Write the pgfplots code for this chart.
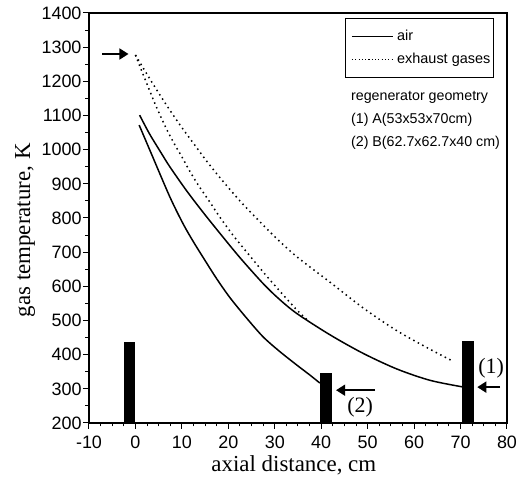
\documentclass[border=0pt]{standalone}
\usepackage{pgfplots}
\pgfplotsset{compat=1.18}
\usepackage{fontspec}
\setmainfont{Liberation Serif}
\newfontfamily\arial{Liberation Sans}
\usetikzlibrary{arrows.meta}

\pgfplotstableread{
x y
0 1277
2.7 1216
4.9 1168
7.0 1124
9.2 1080
11.0 1046
13.5 1000
15.3 967
18.2 918
22.5 850
26.8 789
30.4 740
34.8 686
41.9 612
49.0 537
56.3 470
63.4 416
68.2 382
}\exhaustA

\pgfplotstableread{
x y
0 1277
1.3 1232
2.7 1185
4.1 1138
5.6 1092
7.0 1052
8.5 1014
10.0 979
11.7 937
13.5 897
16.1 845
18.2 802
21.1 748
24.7 688
27.5 642
30.5 595
34.8 530
37.0 502
}\exhaustB

\pgfplotstableread{
x y
0.9 1101
3.0 1047
5.6 989
7.4 950
11.0 880
14.6 816
18.2 755
22.5 684
27.5 608
31.0 562
34.8 520
41.9 458
49.0 404
56.3 358
63.4 325
70.3 306
}\airA

\pgfplotstableread{
x y
0.8 1072
3.4 989
7.4 862
10.3 782
12.5 730
14.6 684
17.5 622
20.4 566
24.0 506
27.5 452
31.0 410
34.8 369
37.5 341
39.7 317
}\airB

\begin{document}
\begin{tikzpicture}
\useasboundingbox (-89bp,-59bp) rectangle (433bp,423bp);
\begin{axis}[
  at={(0,0)}, anchor=south west,
  scale only axis, width=418bp, height=410bp,
  xmin=-10, xmax=80, ymin=200, ymax=1400,
  axis line style={line width=1.1bp},
  tick pos=left, tick align=outside,
  xtick={-10,0,10,20,30,40,50,60,70,80},
  xticklabels={-10,0,10,20,30,40,50,60,70,80},
  ytick={200,300,400,500,600,700,800,900,1000,1100,1200,1300,1400},
  yticklabels={200,300,400,500,600,700,800,900,1000,1100,1200,1300,1400},
  minor x tick num=3, minor y tick num=1,
  major tick length=6bp, minor tick length=3.5bp,
  every tick/.style={line width=1bp, black},
  ticklabel style={font=\arial\fontsize{18}{18}\selectfont},
  xticklabel style={yshift=-3bp},
  yticklabel style={xshift=2bp},
  xlabel={axial distance, cm}, ylabel={gas temperature, K},
  label style={font=\fontsize{23}{25}\selectfont},
  xlabel style={at={(axis description cs:0.49,-0.1024)}, anchor=center},
  ylabel style={at={(axis description cs:-0.153,0.47)}, anchor=center},
]
\addplot[fill=black, draw=none] coordinates {(-2.5,200) (-2.5,437) (0,437) (0,200)} -- cycle;
\addplot[fill=black, draw=none] coordinates {(39.7,200) (39.7,345) (42.3,345) (42.3,200)} -- cycle;
\addplot[fill=black, draw=none] coordinates {(70.3,200) (70.3,440) (72.8,440) (72.8,200)} -- cycle;

\addplot[black, line width=1.5bp, dash pattern=on 1.5bp off 3.6bp, smooth, tension=0.5] table {\exhaustA};
\addplot[black, line width=1.5bp, dash pattern=on 1.5bp off 3.6bp, smooth, tension=0.5] table {\exhaustB};
\addplot[black, line width=1.5bp, smooth, tension=0.5] table {\airA};
\addplot[black, line width=1.5bp, smooth, tension=0.5] table {\airB};

\draw[line width=1.6bp, -{Triangle[length=9bp,width=11bp]}] (axis cs:-7.2,1280) -- (axis cs:-1.5,1280);
\draw[line width=1.6bp, -{Triangle[length=9bp,width=11bp]}] (axis cs:51.6,296) -- (axis cs:43.2,296);
\draw[line width=1.6bp, -{Triangle[length=9bp,width=11bp]}] (axis cs:78.5,305) -- (axis cs:73.6,305);

\node[font=\fontsize{22}{22}\selectfont] at (axis cs:76.6,361) {(1)};
\node[font=\fontsize{22}{22}\selectfont] at (axis cs:48.4,247) {(2)};

% legend
\draw[line width=0.9bp, fill=white] (axis description cs:0.6124,0.9878) rectangle (axis description cs:0.9665,0.8439);
\draw[line width=1.1bp] (axis description cs:0.6292,0.9427) -- (axis description cs:0.7273,0.9427);
\draw[line width=1.1bp, dash pattern=on 1.1bp off 2.2bp] (axis description cs:0.6292,0.8866) -- (axis description cs:0.7273,0.8866);
\node[anchor=base west, inner sep=0pt, font=\arial\fontsize{14.5}{15}\selectfont] at (axis description cs:0.7368,0.9327) {air};
\node[anchor=base west, inner sep=0pt, font=\arial\fontsize{14.5}{15}\selectfont] at (axis description cs:0.7368,0.8766) {exhaust gases};

\node[anchor=north west, inner sep=0pt, align=left, font=\arial\fontsize{14.3}{23}\selectfont] at (axis cs:46.4,1172)
 {regenerator geometry\\(1) A(53x53x70cm)\\(2) B(62.7x62.7x40 cm)};
\end{axis}
\end{tikzpicture}
\end{document}
